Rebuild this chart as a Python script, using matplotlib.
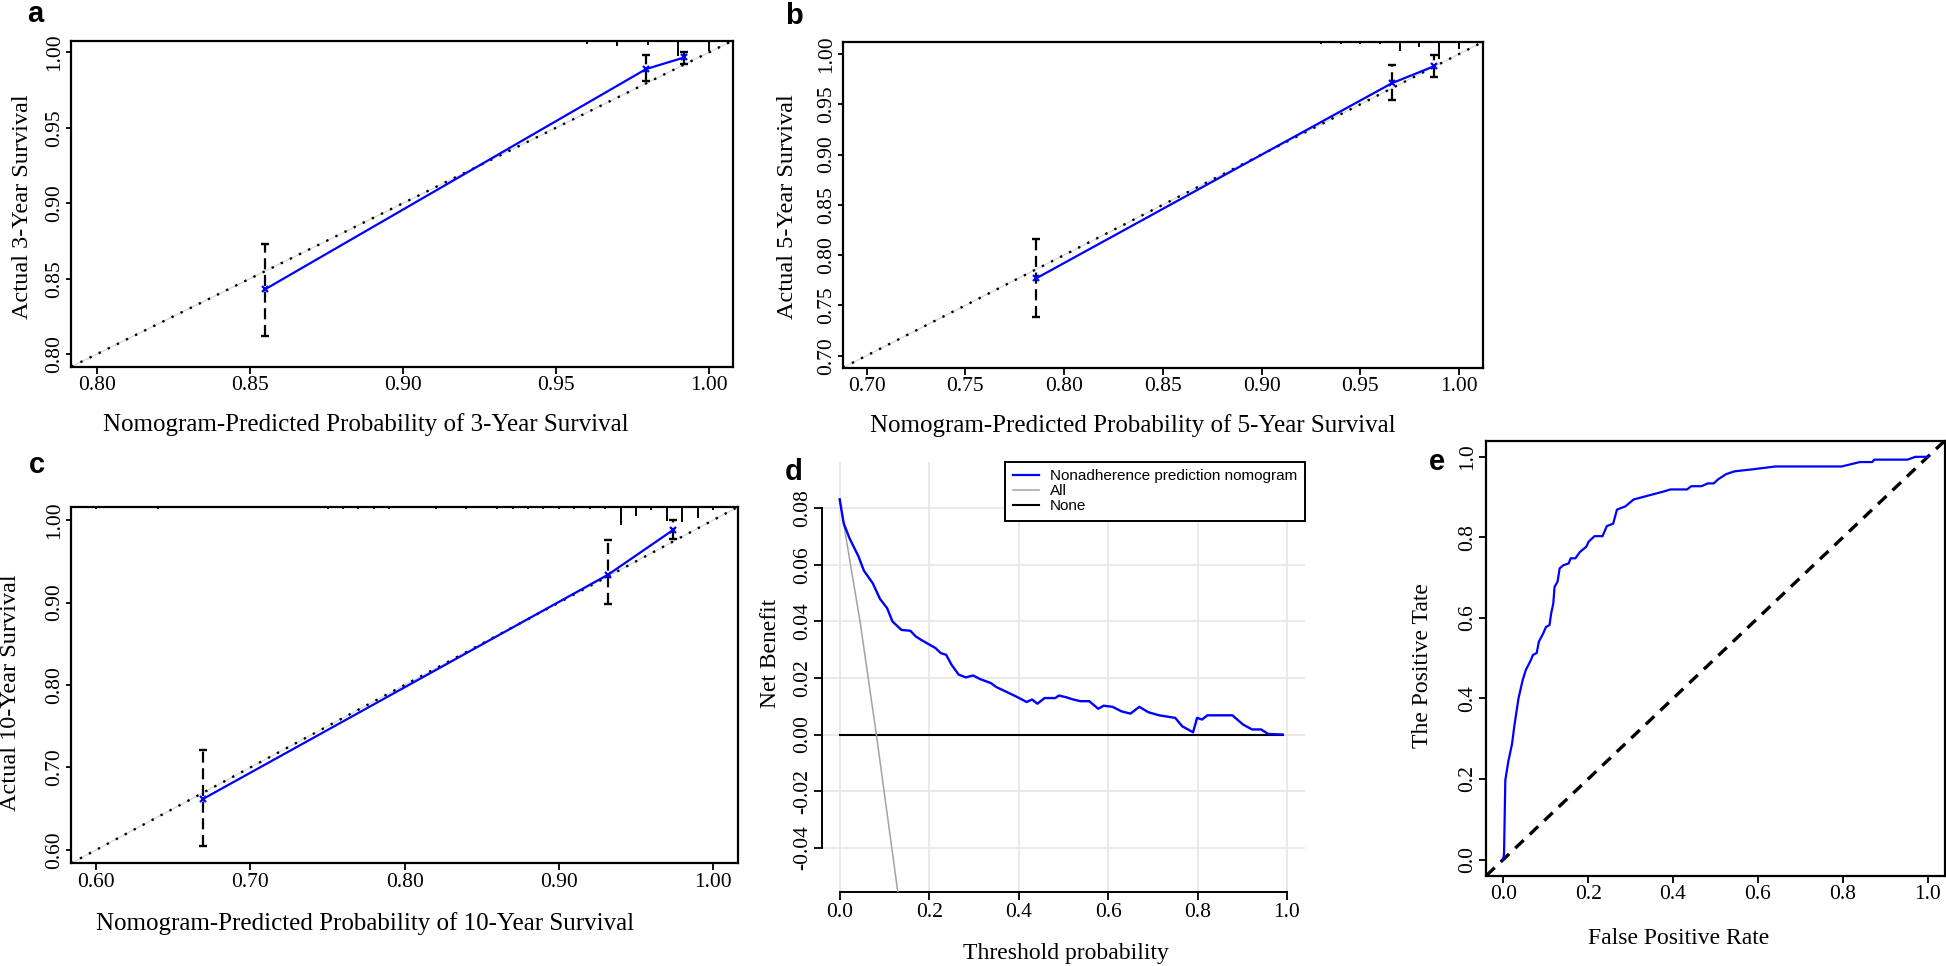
import matplotlib
matplotlib.use("Agg")
import matplotlib.pyplot as plt
from matplotlib.lines import Line2D

plt.rcParams['font.family'] = ['Liberation Serif', 'DejaVu Serif']

# ---------------- data ----------------
# (a) 3-year calibration
cal3_pred = [0.855, 0.9795, 0.992]
cal3_obs = [0.843, 0.989, 0.9967]
cal3_lo = [0.812, 0.981, 0.992]
cal3_hi = [0.873, 0.998, 1.000]
cal3_rug_x = [0.96, 0.97, 0.98, 0.99, 1.00]
cal3_rug_h = [3, 5, 4, 15, 10]
cal3_ticks = [0.80, 0.85, 0.90, 0.95, 1.00]
cal3_labels = ["0.80", "0.85", "0.90", "0.95", "1.00"]

# (b) 5-year calibration
cal5_pred = [0.786, 0.966, 0.9875]
cal5_obs = [0.777, 0.971, 0.988]
cal5_lo = [0.738, 0.954, 0.9775]
cal5_hi = [0.816, 0.989, 0.999]
cal5_rug_x = [0.93, 0.94, 0.95, 0.96, 0.97, 0.98, 0.99, 1.00]
cal5_rug_h = [2, 2, 2, 2, 9, 5, 17, 7]
cal5_ticks = [0.70, 0.75, 0.80, 0.85, 0.90, 0.95, 1.00]
cal5_labels = ["0.70", "0.75", "0.80", "0.85", "0.90", "0.95", "1.00"]

# (c) 10-year calibration
cal10_pred = [0.6695, 0.932, 0.974]
cal10_obs = [0.662, 0.934, 0.988]
cal10_lo = [0.605, 0.898, 0.977]
cal10_hi = [0.721, 0.976, 1.000]
cal10_rug_x = [0.60, 0.64, 0.75, 0.76, 0.77, 0.78, 0.79, 0.82, 0.84, 0.86, 0.87,
               0.88, 0.89, 0.90, 0.91, 0.92, 0.93, 0.94, 0.95, 0.96, 0.97, 0.98,
               0.99, 1.00]
cal10_rug_h = [1.5, 1.5, 1.5, 1.5, 1.5, 1.5, 1.5, 1.5, 1.5, 1.5, 1.5,
               1.5, 1.5, 1.5, 1.5, 1.5, 1.5, 17.7, 9, 2.7, 13.7, 15,
               11, 2.7]
cal10_ticks = [0.60, 0.70, 0.80, 0.90, 1.00]
cal10_labels = ["0.60", "0.70", "0.80", "0.90", "1.00"]

# (d) decision curve
dca_thresh = [0.0, 0.009, 0.022, 0.042, 0.054, 0.074, 0.090, 0.106, 0.118, 0.138,
              0.158, 0.170, 0.182, 0.194, 0.214, 0.226, 0.238, 0.250, 0.266, 0.282,
              0.298, 0.314, 0.338, 0.350, 0.370, 0.394, 0.418, 0.430, 0.442, 0.458,
              0.482, 0.490, 0.506, 0.522, 0.538, 0.558, 0.578, 0.590, 0.610, 0.630,
              0.650, 0.670, 0.690, 0.714, 0.750, 0.766, 0.790, 0.799, 0.810, 0.822,
              0.878, 0.902, 0.922, 0.942, 0.958, 0.990]
dca_nomogram = [0.0832, 0.0747, 0.0694, 0.063, 0.058, 0.0535, 0.048, 0.0447, 0.040, 0.037,
                0.0367, 0.0347, 0.0335, 0.0324, 0.0306, 0.0288, 0.0282, 0.0247, 0.0212, 0.0202,
                0.0209, 0.0196, 0.0182, 0.0168, 0.0153, 0.0135, 0.0115, 0.0124, 0.0109, 0.0129,
                0.0129, 0.0138, 0.0132, 0.0124, 0.0118, 0.0118, 0.0091, 0.0102, 0.0098, 0.0082,
                0.0074, 0.0098, 0.0079, 0.0068, 0.0059, 0.0029, 0.0008, 0.0059, 0.0053, 0.0068,
                0.0068, 0.0035, 0.0018, 0.0018, 0.0002, 0.0]
dca_all_x = [0.0, 0.045, 0.082, 0.130]
dca_all_y = [0.083, 0.0405, 0.0, -0.0558]
dca_none_x = [0.0, 0.99]
dca_none_y = [0.0, 0.0]
dca_xticks = [0.0, 0.2, 0.4, 0.6, 0.8, 1.0]
dca_xlabels = ["0.0", "0.2", "0.4", "0.6", "0.8", "1.0"]
dca_yticks = [-0.04, -0.02, 0.00, 0.02, 0.04, 0.06, 0.08]
dca_ylabels = ["-0.04", "-0.02", "0.00", "0.02", "0.04", "0.06", "0.08"]
dca_legend = ["Nonadherence prediction nomogram", "All", "None"]

# (e) ROC
roc_fpr = [0.0, 0.002, 0.005, 0.012, 0.021, 0.026, 0.036, 0.046, 0.053, 0.065, 0.070,
           0.079, 0.084, 0.094, 0.101, 0.109, 0.113, 0.118, 0.121, 0.128, 0.133, 0.142,
           0.154, 0.159, 0.170, 0.181, 0.196, 0.201, 0.215, 0.234, 0.244, 0.259, 0.268,
           0.288, 0.307, 0.346, 0.375, 0.394, 0.433, 0.443, 0.467, 0.482, 0.496, 0.506,
           0.525, 0.545, 0.588, 0.641, 0.797, 0.840, 0.869, 0.874, 0.952, 0.971, 1.0]
roc_tpr = [0.0, 0.014, 0.197, 0.243, 0.288, 0.330, 0.400, 0.446, 0.470, 0.495, 0.508,
           0.513, 0.541, 0.561, 0.578, 0.582, 0.611, 0.636, 0.677, 0.690, 0.723, 0.731,
           0.735, 0.748, 0.748, 0.764, 0.777, 0.789, 0.803, 0.803, 0.828, 0.834, 0.869,
           0.877, 0.894, 0.905, 0.913, 0.919, 0.919, 0.927, 0.927, 0.934, 0.934, 0.944,
           0.957, 0.964, 0.969, 0.976, 0.976, 0.987, 0.987, 0.993, 0.993, 1.0, 1.0]
roc_ticks = [0.0, 0.2, 0.4, 0.6, 0.8, 1.0]
roc_labels = ["0.0", "0.2", "0.4", "0.6", "0.8", "1.0"]

# ---------------- figure ----------------
W, H, DPI = 1946, 966, 100
fig = plt.figure(figsize=(W / DPI, H / DPI), dpi=DPI)

TICK_FS = 15.5
XLAB_FS = 18
YLAB_FS = 17.5


def style_ticks(ax, ylen=3.5, xlen=5):
    ax.tick_params(axis='x', direction='out', length=xlen, width=1.3, pad=2,
                   labelsize=TICK_FS, colors='black')
    ax.tick_params(axis='y', direction='out', length=ylen, width=1.3, pad=1.5,
                   labelsize=TICK_FS, labelrotation=90, colors='black')
    for lab in ax.get_yticklabels():
        lab.set_va('center')


def set_labels(ax, xlabel, ylabel, xpos, ypos, xfs=XLAB_FS, yfs=YLAB_FS):
    ax.set_xlabel(xlabel, fontsize=xfs)
    ax.set_ylabel(ylabel, fontsize=yfs)
    for lab in (ax.xaxis.label, ax.yaxis.label):
        lab.set_rotation_mode('default')
        lab.set_ha('center')
        lab.set_va('center')
    ax.xaxis.set_label_coords(*xpos)
    ax.yaxis.set_label_coords(*ypos)


def calib(rect, lim, ticks, labels, pred, obs, lo, hi, rug_x, rug_h,
          xlabel, ylabel, xpos, ypos):
    ax = fig.add_axes(rect)
    ax.set_xlim(lim)
    ax.set_ylim(lim)
    for s in ax.spines.values():
        s.set_linewidth(1.6)
    ax.axline((lim[0], lim[0]), slope=1, color='#d4d4d4', lw=0.8, zorder=1)
    ax.axline((lim[0], lim[0]), slope=1, color='black', lw=1.7,
              dashes=(1, 3.3), zorder=2)
    ax.vlines(pred, lo, hi, colors='black', lw=1.6, linestyles=(0, (5, 2.5)), zorder=3)
    ax.plot(pred, lo, ls='none', marker='_', ms=6, mew=1.7, color='black', zorder=3)
    ax.plot(pred, hi, ls='none', marker='_', ms=6, mew=1.7, color='black', zorder=3)
    ax.plot(pred, obs, color='blue', lw=1.6, marker='x', ms=5, mew=1.6, zorder=4)
    axh = rect[3] * H
    trans = ax.get_xaxis_transform()
    ax.vlines(rug_x, [1 - h / axh for h in rug_h], 1, transform=trans,
              colors='black', lw=1.4, zorder=5)
    ax.set_xticks(ticks, labels)
    ax.set_yticks(ticks, labels)
    style_ticks(ax)
    set_labels(ax, xlabel, ylabel, xpos, ypos)
    return ax


calib([0.03664, 0.6204, 0.3399, 0.3375], (0.7916, 1.0078), cal3_ticks, cal3_labels,
      cal3_pred, cal3_obs, cal3_lo, cal3_hi, cal3_rug_x, cal3_rug_h,
      "Nomogram-Predicted Probability of 3-Year Survival", "Actual 3-Year Survival",
      (0.4456, -0.176), (-0.0745, 0.491))

calib([0.43314, 0.61936, 0.32877, 0.33716], (0.688, 1.012), cal5_ticks, cal5_labels,
      cal5_pred, cal5_obs, cal5_lo, cal5_hi, cal5_rug_x, cal5_rug_h,
      "Nomogram-Predicted Probability of 5-Year Survival", "Actual 5-Year Survival",
      (0.4527, -0.179), (-0.0866, 0.494))

calib([0.03649, 0.10631, 0.3426, 0.36884], (0.5837, 1.0159), cal10_ticks, cal10_labels,
      cal10_pred, cal10_obs, cal10_lo, cal10_hi, cal10_rug_x, cal10_rug_h,
      "Nomogram-Predicted Probability of 10-Year Survival", "Actual 10-Year Survival",
      (0.4404, -0.170), (-0.0904, 0.479))

# ---- (d) decision curve ----
axd = fig.add_axes([0.42230, 0.07629, 0.24825, 0.44576])
axd.set_xlim(-0.04, 1.04)
axd.set_ylim(-0.0558, 0.0965)
axd.set_xticks(dca_xticks, dca_xlabels)
axd.set_yticks(dca_yticks, dca_ylabels)
axd.grid(True, color='#e6e6e6', lw=1.2)
axd.set_axisbelow(True)
for side in ('top', 'right'):
    axd.spines[side].set_visible(False)
axd.spines['left'].set_bounds(dca_yticks[0], dca_yticks[-1])
axd.spines['bottom'].set_bounds(dca_xticks[0], dca_xticks[-1])
axd.spines['left'].set_linewidth(1.4)
axd.spines['bottom'].set_linewidth(1.4)
axd.plot(dca_none_x, dca_none_y, color='black', lw=1.5, zorder=3)
axd.plot(dca_all_x, dca_all_y, color='#a3a3a3', lw=1.1, zorder=3)
axd.plot(dca_thresh, dca_nomogram, color='blue', lw=1.7, zorder=4)
style_ticks(axd, ylen=5.5, xlen=5.5)
set_labels(axd, "Threshold probability", "Net Benefit", (0.5055, -0.141),
           (-0.1072, 0.555), xfs=17, yfs=17)
handles = [Line2D([], [], color='blue', lw=1.6),
           Line2D([], [], color='#a3a3a3', lw=1.1),
           Line2D([], [], color='black', lw=1.5)]
leg = axd.legend(handles, dca_legend, loc='upper right', bbox_to_anchor=(1.0, 1.0),
                 borderaxespad=0, fancybox=False, framealpha=1, edgecolor='black',
                 prop={'family': 'Liberation Sans', 'size': 11}, handlelength=1.75,
                 handletextpad=0.7, labelspacing=0.05, borderpad=0.5)
leg.get_frame().set_linewidth(1.4)

# ---- (e) ROC ----
axe = fig.add_axes([0.76372, 0.09348, 0.23566, 0.45031])
axe.set_xlim(-0.04, 1.04)
axe.set_ylim(-0.04, 1.04)
for s in axe.spines.values():
    s.set_linewidth(1.6)
axe.axline((0, 0), slope=1, color='black', lw=2.4, dashes=(3.5, 2.5), zorder=2)
axe.plot(roc_fpr, roc_tpr, color='blue', lw=1.6, zorder=3)
axe.set_xticks(roc_ticks, roc_labels)
axe.set_yticks(roc_ticks, roc_labels)
style_ticks(axe, ylen=5, xlen=5)
set_labels(axe, "False Positive Rate", "The Positive Tate", (0.4204, -0.1455),
           (-0.139, 0.4825), xfs=17, yfs=17)

# ---- panel letters ----
letter_kw = dict(family='Liberation Sans', weight='bold', fontsize=21,
                 ha='left', va='baseline')
fig.text(27.6 / W, 1 - 21.5 / H, "a", **letter_kw)
fig.text(785.6 / W, 1 - 23.5 / H, "b", **letter_kw)
fig.text(28.5 / W, 1 - 473.3 / H, "c", **letter_kw)
fig.text(785.0 / W, 1 - 480 / H, "d", **letter_kw)
fig.text(1428.5 / W, 1 - 470 / H, "e", **letter_kw)

fig.savefig("out.png", dpi=DPI)
